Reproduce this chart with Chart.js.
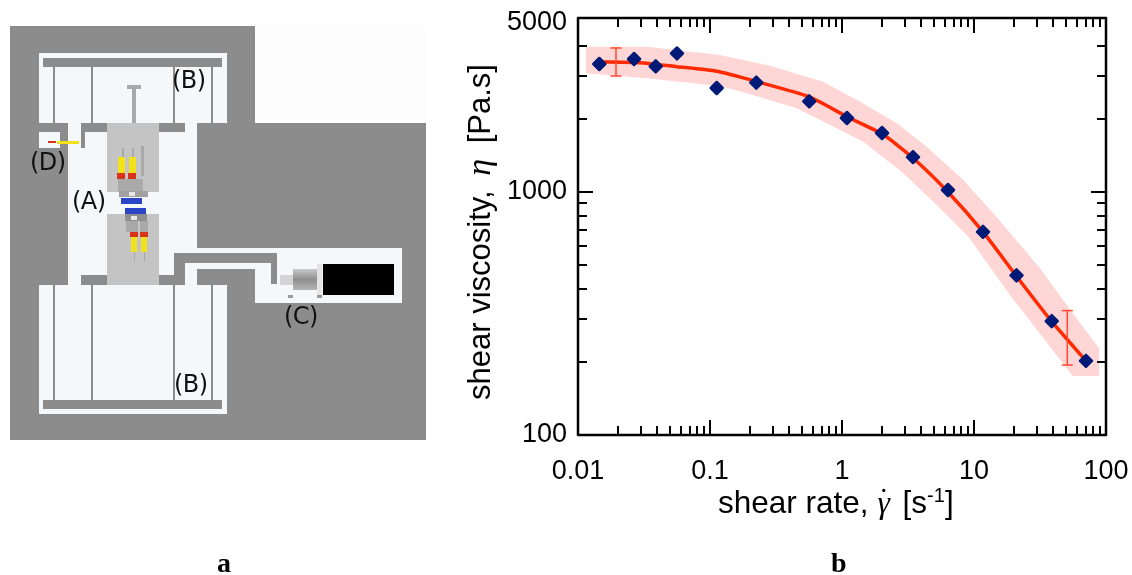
<!DOCTYPE html>
<html lang="en">
<head>
<meta charset="utf-8">
<style>
    html, body { margin: 0; padding: 0; background: #fff; }
    #page { position: relative; width: 1132px; height: 575px; overflow: hidden; }
    #page svg, #page canvas { position: absolute; left: 0; top: 0; }
    .tag { position: absolute; font-family: "DejaVu Sans"; font-size: 24px; color: #111; line-height: 1; white-space: nowrap; letter-spacing: -0.5px; }
    .panel { position: absolute; font-family: "Liberation Serif"; font-weight: bold; font-size: 28px; line-height: 1; color: #000; }
    .axis { position: absolute; font-family: "Liberation Sans"; color: #000; line-height: 1; white-space: nowrap; }
    .axis i { font-family: "Liberation Serif"; font-style: italic; }
    .axis sup { font-size: 20px; line-height: 0; }
    #gamma { position: relative; display: inline-block; width: 22px; margin-left: 9px; margin-right: 3px; }
    #gamma b { position: absolute; left: 1px; top: -3px; font-weight: normal; font-style: normal; }
</style>
</head>
<body>
<div id="page">
    <!-- panel a: the instrument schematic -->
    <svg width="1132" height="575">
        <defs>
            <linearGradient id="motor" x1="0" y1="0" x2="0" y2="1">
                <stop offset="0" stop-color="#c9c9c9"/>
                <stop offset="0.5" stop-color="#8f8f8f"/>
                <stop offset="1" stop-color="#b5b5b5"/>
            </linearGradient>
        </defs>
        <rect x="255" y="26" width="171" height="97" fill="#fdfdfd"/>
        <path d="M10 26H255V123H426V440H10Z" fill="#8c8c8c"/>
        <g fill="#f4f8fb">
            <rect x="39" y="53" width="188" height="70"/>
            <rect x="39" y="285" width="188" height="129"/>
            <rect x="68" y="123" width="129" height="162"/>
            <rect x="39" y="132" width="21" height="16"/>
            <rect x="170" y="248" width="232" height="21"/>
            <rect x="255" y="269" width="147" height="34"/>
        </g>
        <g fill="#8c8c8c">
            <rect x="43" y="58" width="179" height="9"/>
            <rect x="43" y="400" width="179" height="9"/>
            <rect x="53" y="67" width="2" height="56"/>
            <rect x="91" y="67" width="2" height="56"/>
            <rect x="173" y="67" width="2" height="56"/>
            <rect x="211" y="67" width="2" height="56"/>
            <rect x="53" y="285" width="2" height="115"/>
            <rect x="91" y="285" width="2" height="115"/>
            <rect x="173" y="285" width="2" height="115"/>
            <rect x="211" y="285" width="2" height="115"/>
            <rect x="39" y="123" width="29" height="9"/>
            <rect x="60" y="132" width="8" height="16"/>
            <rect x="81" y="123" width="26" height="9"/>
            <rect x="81" y="132" width="4" height="16"/>
            <rect x="159" y="123" width="26" height="9"/>
            <rect x="81" y="275" width="26" height="10"/>
            <rect x="159" y="275" width="26" height="10"/>
            <rect x="174" y="253" width="103" height="10"/>
            <rect x="174" y="253" width="11" height="30"/>
            <rect x="271" y="253" width="6" height="31"/>
            <rect x="197" y="269" width="58" height="16"/>
        </g>
        <g fill="#c4c4c4">
            <rect x="107" y="123" width="52" height="69"/>
            <rect x="107" y="214" width="52" height="71"/>
        </g>
        <g fill="#a9a9a9">
            <rect x="132" y="87" width="4" height="36"/>
            <rect x="127" y="85" width="14" height="4"/>
            <rect x="122" y="148" width="2" height="10"/>
            <rect x="132" y="148" width="2" height="10"/>
            <rect x="141" y="146" width="3" height="30"/>
            <rect x="118" y="179" width="25" height="12"/>
            <rect x="119" y="191" width="29" height="6" fill="#a0a0a0"/>
            <rect x="129" y="192" width="6" height="4" fill="#e8e8e8"/>
            <rect x="125" y="214" width="22" height="7" fill="#8f8f8f"/>
            <rect x="131" y="216" width="6" height="4" fill="#e8e8e8"/>
            <rect x="126" y="221" width="12" height="11"/>
            <rect x="140" y="221" width="8" height="11"/>
            <rect x="134" y="252" width="1" height="9"/>
            <rect x="144" y="252" width="1" height="9"/>
        </g>
        <g fill="#f2e21b">
            <rect x="118" y="157" width="7" height="17"/>
            <rect x="129" y="157" width="7" height="17"/>
            <rect x="131" y="237" width="6" height="15"/>
            <rect x="141" y="237" width="6" height="15"/>
            <rect x="57" y="141" width="22" height="3"/>
        </g>
        <g fill="#d8341c">
            <rect x="117" y="173" width="8" height="6"/>
            <rect x="128" y="173" width="8" height="6"/>
            <rect x="130" y="232" width="8" height="5"/>
            <rect x="140" y="232" width="8" height="5"/>
            <rect x="48" y="141" width="8" height="2"/>
        </g>
        <g fill="#2a45c8">
            <rect x="121" y="198" width="21" height="6"/>
            <rect x="125" y="208" width="21" height="6"/>
        </g>
        <rect x="323" y="264" width="71" height="31" fill="#000"/>
        <rect x="293" y="269" width="24" height="21" fill="url(#motor)"/>
        <rect x="317" y="264" width="5" height="33" fill="#e4e4e4"/>
        <rect x="280" y="275" width="13" height="10" fill="#d4d4d4"/>
        <rect x="288" y="295" width="5" height="3" fill="#9a9a9a"/>
        <rect x="317" y="295" width="5" height="3" fill="#9a9a9a"/>
    </svg>

    <canvas id="myChart" width="1132" height="575"></canvas>

    <div class="tag" style="left:172px;top:68px">(B)</div>
    <div class="tag" style="left:30px;top:150px">(D)</div>
    <div class="tag" style="left:72px;top:189px">(A)</div>
    <div class="tag" style="left:284px;top:304px">(C)</div>
    <div class="tag" style="left:174px;top:372px">(B)</div>

    <div class="axis" id="yTitle" style="left:479px;top:232px;font-size:31px;transform:translate(-50%,-50%) rotate(-90deg)">shear viscosity, <i style="font-size:34px;margin:0 7px 0 6px">η</i> [Pa.s]</div>
    <div class="axis" id="xTitle" style="left:718px;top:487px;font-size:31.5px">shear rate,<i id="gamma">γ<b>˙</b></i>[s<sup>-1</sup>]</div>

    <div class="panel" style="left:217px;top:549px">a</div>
    <div class="panel" style="left:831px;top:549px">b</div>
</div>

<script src="https://cdn.jsdelivr.net/npm/chart.js@4/dist/chart.umd.js"></script>
<script>
    var xMajor = [0.01, 0.1, 1, 10, 100];
    var xMinor = [0.02, 0.03, 0.04, 0.05, 0.06, 0.07, 0.08, 0.09,
                  0.2, 0.3, 0.4, 0.5, 0.6, 0.7, 0.8, 0.9,
                  2, 3, 4, 5, 6, 7, 8, 9,
                  20, 30, 40, 50, 60, 70, 80, 90];
    var yLabels = [100, 1000, 5000];
    var yMajor = [100, 1000];
    var yMinor = [200, 300, 400, 500, 600, 700, 800, 900, 2000, 3000, 4000];

    var shearRate = [0.0145, 0.0266, 0.0388, 0.0562, 0.1124, 0.2243, 0.565, 1.09, 2.01, 3.45, 6.35, 11.7, 21.0, 38.8, 70.5];
    var viscosity = [3363, 3526, 3291, 3715, 2679, 2817, 2362, 2016, 1749, 1393, 1019, 685, 454, 294, 202];

    var fitRate = [0.0144, 0.0295, 0.0562, 0.113, 0.227, 0.562, 1.09, 2.01, 3.45, 6.35, 11.7, 21.2, 39.0, 70.5];
    var fitViscosity = [3428, 3405, 3278, 3138, 2844, 2467, 2041, 1735, 1380, 1000, 685, 447, 292, 202];

    var bandUpperRate = [0.01144, 0.0331, 0.119, 0.285, 0.718, 1.37, 2.6, 4.38, 8.3, 14.4, 31.6, 50.4, 88.9];
    var bandUpper = [3963, 3963, 3663, 3309, 2844, 2353, 1917, 1536, 1120, 804, 485, 343, 227];
    var bandLowerRate = [0.01144, 0.0331, 0.119, 0.19, 0.454, 0.766, 1.45, 2.83, 5.21, 9.06, 18.7, 56, 88.9];
    var bandLower = [3079, 2937, 2730, 2548, 2210, 1917, 1611, 1212, 884, 655, 377, 175, 175];

    var errorRate = [0.0194, 50.9];
    var errorLow = [3001, 194];
    var errorHigh = [3915, 325];

    function pairs(xs, ys) {
        return xs.map(function (x, i) { return { x: x, y: ys[i] }; });
    }

    function errorBar(i) {
        return {
            data: [{ x: errorRate[i], y: errorLow[i] }, { x: errorRate[i], y: errorHigh[i] }],
            showLine: true,
            borderColor: '#ff4a30',
            borderWidth: 1.5,
            pointStyle: 'line',
            pointRadius: 5.5,
            pointBorderColor: '#ff4a30',
            pointBorderWidth: 1.5,
            clip: false
        };
    }

    // inner tick marks on all four sides, plus the closed frame
    var frame = {
        id: 'frame',
        beforeDatasetDraw: function (chart) {
            chart.ctx.lineJoin = 'round';
        },
        afterDraw: function (chart) {
            var ctx = chart.ctx, a = chart.chartArea;
            var xs = chart.scales.x, ys = chart.scales.y;
            ctx.save();
            ctx.strokeStyle = '#000';
            ctx.lineWidth = 2;
            function tickX(v, len) {
                var p = Math.round(xs.getPixelForValue(v));
                ctx.beginPath();
                ctx.moveTo(p, a.bottom); ctx.lineTo(p, a.bottom - len);
                ctx.moveTo(p, a.top); ctx.lineTo(p, a.top + len);
                ctx.stroke();
            }
            function tickY(v, len) {
                var p = Math.round(ys.getPixelForValue(v));
                ctx.beginPath();
                ctx.moveTo(a.left, p); ctx.lineTo(a.left + len, p);
                ctx.moveTo(a.right, p); ctx.lineTo(a.right - len, p);
                ctx.stroke();
            }
            xMajor.forEach(function (v) { tickX(v, 15); });
            xMinor.forEach(function (v) { tickX(v, 9); });
            yMajor.forEach(function (v) { tickY(v, 15); });
            yMinor.forEach(function (v) { tickY(v, 9); });
            ctx.lineWidth = 2.5;
            ctx.strokeRect(a.left, a.top, a.right - a.left, a.bottom - a.top);
            ctx.restore();
        }
    };

    var ctx = document.getElementById('myChart').getContext('2d');
    new Chart(ctx, {
        type: 'scatter',
        data: {
            // first dataset is painted last
            datasets: [
                {
                    data: pairs(shearRate, viscosity),
                    backgroundColor: '#001a78',
                    borderColor: '#001a78',
                    borderWidth: 2.5,
                    pointStyle: 'rectRot',
                    pointRadius: 6,
                    clip: false
                },
                errorBar(0),
                errorBar(1),
                {
                    data: pairs(fitRate, fitViscosity),
                    showLine: true,
                    borderColor: '#ff2a00',
                    borderWidth: 3.5,
                    tension: 0.2,
                    pointRadius: 0
                },
                {
                    data: pairs(bandUpperRate, bandUpper),
                    showLine: true,
                    borderWidth: 0,
                    pointRadius: 0,
                    backgroundColor: '#ffd6d6',
                    fill: '+1'
                },
                {
                    data: pairs(bandLowerRate, bandLower),
                    showLine: true,
                    borderWidth: 0,
                    pointRadius: 0
                }
            ]
        },
        options: {
            responsive: false,
            animation: false,
            events: [],
            layout: { padding: { left: 0, top: 18, right: 26, bottom: 0 } },
            plugins: { legend: { display: false }, tooltip: { enabled: false } },
            scales: {
                x: {
                    type: 'logarithmic',
                    min: 0.01,
                    max: 100,
                    grid: { display: false },
                    border: { display: false },
                    afterBuildTicks: function (scale) {
                        scale.ticks = xMajor.map(function (v) { return { value: v }; });
                    },
                    afterFit: function (scale) {
                        scale.height = 140;
                        scale.paddingLeft = 0;
                        scale.paddingRight = 0;
                    },
                    ticks: {
                        autoSkip: false,
                        maxRotation: 0,
                        padding: 12,
                        color: '#000',
                        font: { family: 'Liberation Sans', size: 27 },
                        callback: function (v) { return String(v); }
                    }
                },
                y: {
                    type: 'logarithmic',
                    min: 100,
                    max: 5200,
                    grid: { display: false },
                    border: { display: false },
                    afterBuildTicks: function (scale) {
                        scale.ticks = yLabels.map(function (v) { return { value: v }; });
                    },
                    afterFit: function (scale) {
                        scale.width = 578;
                        scale.paddingTop = 0;
                        scale.paddingBottom = 0;
                    },
                    ticks: {
                        autoSkip: false,
                        padding: 3,
                        color: '#000',
                        font: { family: 'Liberation Sans', size: 27 },
                        callback: function (v) { return String(v); }
                    }
                }
            }
        },
        plugins: [frame]
    });
</script>
</body>
</html>
